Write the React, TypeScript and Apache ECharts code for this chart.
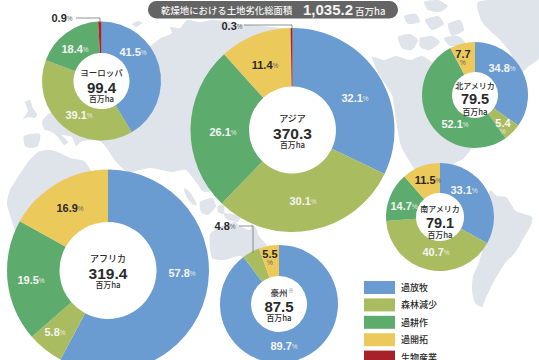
import React, { useEffect, useRef } from "react";
import * as echarts from "echarts";

const causes = ["過放牧", "森林減少", "過耕作", "過開拓", "生物産業"];
const causeColors = ["#6a9bd1", "#a9bc5f", "#5dac6e", "#ecc95b", "#a8212a"];

const regionNames = ["ヨーロッパ", "アジア", "北アメリカ", "南アメリカ", "アフリカ", "豪州"];
const regionTotals = ["99.4", "370.3", "79.5", "79.1", "319.4", "87.5"];
const europeValues = [41.5, 39.1, 18.4, 0, 0.9];
const asiaValues = [32.1, 30.1, 26.1, 11.4, 0.3];
const northAmericaValues = [34.8, 5.4, 52.1, 7.7, 0];
const southAmericaValues = [33.1, 40.7, 14.7, 11.5, 0];
const africaValues = [57.8, 5.8, 19.5, 16.9, 0];
const oceaniaValues = [89.7, 4.8, 0, 5.5, 0];
const regionValues = [europeValues, asiaValues, northAmericaValues, southAmericaValues, africaValues, oceaniaValues];

// layout: cx, cy, outer radius, inner radius, and centre text rows
const pieLayout = [
  { c: [101.5, 81], r: 59.5, h: 28, rows: [72, 87, 98], name: 8.5, total: 15 },
  { c: [292.5, 130], r: 102, h: 43.5, rows: [118, 133, 144], name: 9, total: 15.5 },
  { c: [475, 95], r: 53, h: 23, rows: [85, 99, 111], name: 8, total: 14.5 },
  { c: [440, 217], r: 54, h: 24, rows: [208, 223, 234], name: 8, total: 14.5 },
  { c: [108, 270.5], r: 101, h: 48.5, rows: [258, 273, 284], name: 9, total: 15.5 },
  { c: [279, 304], r: 59, h: 28, rows: [292, 306, 317], name: 8.5, total: 15 },
];
// label anchor per cause, per region
const labelAt: (number[] | null)[][] = [
  [[133, 52], [79, 115], [75, 49], null, [62, 18]],
  [[355, 98], [303, 201], [223, 132], [265, 65], [232, 26]],
  [[502, 68], [503, 127], [455, 124], [463, 58], null],
  [[464, 190], [436, 252], [404, 206], [428, 180], null],
  [[182, 273], [55, 332], [31, 280], [70, 208], null],
  [[284, 346], [225, 226], null, [270, 258], null],
];
const stackedLabels = ["2:1", "2:3", "5:3"];
const outsideLabels = ["0:4", "1:4", "5:1"];

const leaderLines = [
  [[76, 18], [100, 18], [100, 23]],
  [[244, 25], [292, 25], [292, 29]],
  [[239, 226], [253, 226], [253, 253]],
];

const land: number[][][] = [
  // Eurasia
  [[60, 110], [48, 114], [42, 122], [45, 130], [50, 131], [57, 136], [64, 145], [68, 142], [62, 135], [72, 137], [76, 146], [82, 141], [100, 141], [108, 150], [116, 162], [128, 172], [150, 168], [172, 172], [186, 170], [196, 182], [204, 192], [215, 190], [300, 150], [350, 60], [290, 30], [240, 24], [225, 21], [212, 20], [200, 22], [187, 20], [180, 28], [170, 27], [172, 33], [161, 38], [150, 46], [120, 60]],
  [[132, 24], [138, 21], [142, 23], [136, 27]],
  // Iberia, UK, Africa
  [[24, 136], [40, 134], [38, 146], [30, 148], [25, 146]],
  [[25, 102], [30, 100], [33, 108], [37, 114], [35, 118], [28, 117], [23, 119], [28, 111]],
  [[38, 152], [50, 150], [60, 153], [70, 158], [84, 161], [92, 172], [100, 185], [100, 260], [30, 260], [7, 205], [10, 190], [16, 180], [28, 162]],
  // South-east Asia islands
  [[200, 202], [212, 198], [216, 206], [208, 215], [201, 212]],
  [[184, 188], [190, 192], [197, 205], [192, 204], [186, 196]],
  [[218, 206], [224, 205], [224, 214], [218, 212]],
  [[224, 213], [240, 216], [238, 222], [226, 219]],
  // Australia
  [[210, 234], [222, 226], [235, 222], [240, 226], [250, 230], [252, 224], [256, 228], [259, 236], [267, 246], [262, 256], [250, 262], [240, 256], [224, 260], [212, 258]],
  // North America
  [[372, 57], [384, 60], [396, 56], [410, 60], [422, 56], [436, 64], [460, 60], [490, 90], [480, 135], [464, 158], [448, 166], [436, 165], [430, 172], [417, 172], [410, 162], [401, 146], [396, 120], [392, 95], [380, 76]],
  // Arctic islands
  [[398, 37], [410, 34], [418, 40], [412, 50], [402, 48]],
  [[420, 38], [432, 36], [440, 42], [430, 50], [420, 47]],
  [[404, 16], [416, 14], [420, 22], [408, 24]],
  [[425, 20], [438, 16], [444, 24], [432, 30]],
  [[424, 2], [438, 0], [448, 6], [440, 12], [428, 10]],
  [[448, 24], [460, 20], [464, 30], [452, 36]],
  [[444, 38], [458, 36], [466, 44], [450, 46]],
  // Greenland
  [[478, 2], [539, 0], [539, 58], [529, 66], [520, 73], [510, 52], [500, 40], [482, 22]],
  // South America
  [[490, 190], [497, 196], [506, 197], [516, 211], [532, 217], [531, 225], [522, 241], [515, 253], [505, 263], [492, 285], [485, 300], [482, 307], [475, 303], [472, 290], [473, 276], [478, 265], [484, 245], [487, 230], [486, 212]],
];

const rich = {
  w: { color: "#f4f5f2", fontSize: 11, fontWeight: "bold", fontFamily: "Liberation Sans" },
  wp: { color: "#e8eae6", fontSize: 6.5, fontFamily: "Liberation Sans" },
  d: { color: "#2a2a2a", fontSize: 11, fontWeight: "bold", fontFamily: "Liberation Sans" },
  dp: { color: "#666666", fontSize: 6.5, fontFamily: "Liberation Sans" },
};

export default function App() {
  const ref = useRef<HTMLDivElement>(null);
  useEffect(() => {
    const chart = echarts.init(ref.current!, null, { renderer: "svg" });
    const series = regionValues.map((values, ri) => {
      const items = causes
        .map((name, ci) => ({ name, value: values[ci], ci, itemStyle: { color: causeColors[ci] } }))
        .filter((d) => d.value > 0);
      const p = pieLayout[ri];
      return {
        type: "pie",
        name: regionNames[ri],
        center: p.c,
        radius: [p.h, p.r],
        startAngle: 90,
        clockwise: true,
        silent: true,
        avoidLabelOverlap: false,
        data: items,
        label: {
          show: true,
          position: "inside",
          rich,
          lineHeight: 9,
          formatter: (a: any) => {
            const ci = causes.indexOf(a.name);
            const key = `${ri}:${ci}`;
            const outside = outsideLabels.includes(key);
            const dark = ci === 3 || outside;
            const v = a.value.toFixed(1);
            const [m, n] = dark ? ["d", "dp"] : ["w", "wp"];
            return stackedLabels.includes(key) ? `{${m}|${v}}\n{${n}|%}` : `{${m}|${v}}{${n}|%}`;
          },
        },
        labelLine: { show: false },
        labelLayout: (a: any) => {
          const ci = causes.indexOf(items[a.dataIndex].name);
          const at = labelAt[ri][ci]!;
          return { x: at[0], y: at[1], align: "center", verticalAlign: "middle" };
        },
      };
    });

    const centerText: any[] = [];
    pieLayout.forEach((p, i) => {
      centerText.push({ type: "circle", z: 1, shape: { cx: p.c[0], cy: p.c[1], r: p.h + 1 }, style: { fill: "#ffffff" } });
      const base = { textAlign: "center", textVerticalAlign: "middle", fill: "#2a2a2a" };
      centerText.push({ type: "text", z: 10, x: p.c[0], y: p.rows[0], style: { ...base, text: regionNames[i], font: `500 ${p.name}px 'Noto Sans CJK JP'` } });
      centerText.push({ type: "text", z: 10, x: p.c[0], y: p.rows[1], style: { ...base, text: regionTotals[i], font: `bold ${p.total}px 'Liberation Sans'` } });
      centerText.push({ type: "text", z: 10, x: p.c[0], y: p.rows[2], style: { ...base, text: "百万ha", font: "500 7.8px 'Noto Sans CJK JP'" } });
    });
    centerText.push({ type: "text", z: 10, x: 291, y: 289, style: { text: "※", fill: "#666666", textAlign: "center", textVerticalAlign: "middle", font: "5px 'Noto Sans CJK JP'" } });

    chart.setOption({
      animation: false,
      backgroundColor: "#ffffff",
      legend: {
        show: true,
        orient: "vertical",
        left: 364,
        top: 281,
        height: 100,
        icon: "rect",
        itemWidth: 31,
        itemHeight: 13,
        itemGap: 4.4,
        selectedMode: false,
        data: causes,
        textStyle: { fontSize: 9, fontWeight: 500, color: "#2a2a2a", fontFamily: "Noto Sans CJK JP", padding: [0, 0, 0, 1] },
        padding: 0,
      },
      graphic: [
        ...land.map((points) => ({ type: "polygon", z: 0, shape: { points, smooth: 0.2 }, style: { fill: "#dfe3ea" } })),
        ...centerText,
        ...leaderLines.map((points) => ({ type: "polyline", z: 10, shape: { points }, style: { stroke: "#777777", lineWidth: 0.8, fill: "none" } })),
        { type: "rect", z: 10, shape: { x: 148, y: 1, width: 250, height: 17.5, r: 8.5 }, style: { fill: "#646464" } },
        { type: "text", z: 11, x: 161, y: 10, style: { text: "乾燥地における土地劣化総面積", fill: "#f4f4f4", textVerticalAlign: "middle", font: "500 9.4px 'Noto Sans CJK JP'" } },
        { type: "text", z: 11, x: 303, y: 9.5, style: { text: "1,035.2", fill: "#f4f4f4", textVerticalAlign: "middle", font: "bold 15px 'Liberation Sans'" } },
        { type: "text", z: 11, x: 355, y: 10.5, style: { text: "百万ha", fill: "#f4f4f4", textVerticalAlign: "middle", font: "500 9.5px 'Noto Sans CJK JP'" } },
      ],
      series,
    });
    return () => chart.dispose();
  }, []);
  return <div ref={ref} style={{ position: "absolute", left: 0, top: 0, width: 539, height: 360 }} />;
}
